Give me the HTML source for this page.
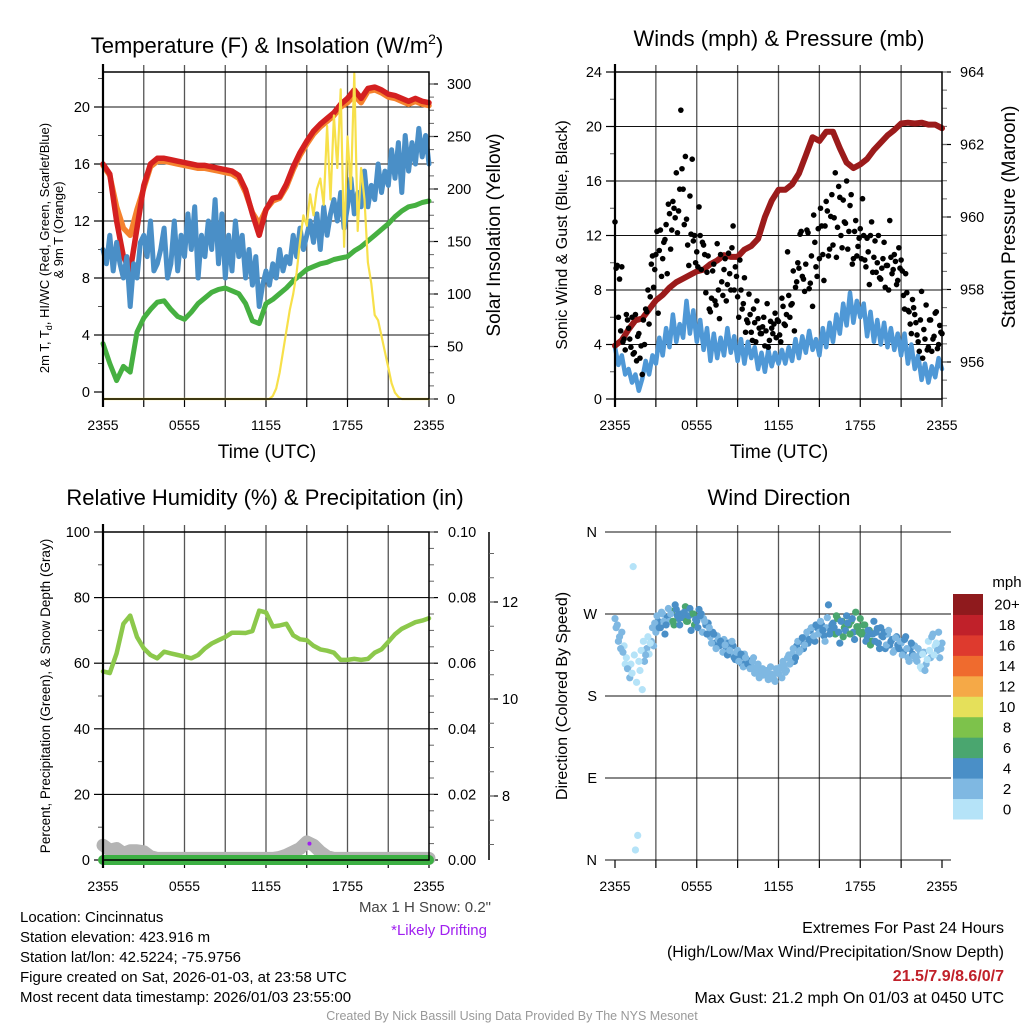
<!DOCTYPE html>
<html><head><meta charset="utf-8">
<style>
html,body{margin:0;padding:0;background:#fff;}
svg{display:block;font-family:"Liberation Sans",sans-serif;}
</style></head>
<body>
<svg id="root" width="1024" height="1024" viewBox="0 0 1024 1024" xmlns="http://www.w3.org/2000/svg">
<rect x="0" y="0" width="1024" height="1024" fill="#fff"/>
<text x="267" y="53" font-size="22" text-anchor="middle">Temperature (F) &amp; Insolation (W/m<tspan font-size="14" dy="-9">2</tspan><tspan dy="9">)</tspan></text>
<text x="779" y="46" font-size="22" text-anchor="middle">Winds (mph) &amp; Pressure (mb)</text>
<text x="265" y="505" font-size="22" text-anchor="middle">Relative Humidity (%) &amp; Precipitation (in)</text>
<text x="779" y="505" font-size="22" text-anchor="middle">Wind Direction</text>
<text x="267" y="458" font-size="19" text-anchor="middle">Time (UTC)</text>
<text x="779" y="458" font-size="19" text-anchor="middle">Time (UTC)</text>
<text transform="translate(49,248) rotate(-90)" font-size="13" text-anchor="middle">2m T, T<tspan font-size="9" dy="3">d</tspan><tspan dy="-3">, HI/WC (Red, Green, Scarlet/Blue)</tspan></text>
<text transform="translate(63,230) rotate(-90)" font-size="13" text-anchor="middle">&amp; 9m T (Orange)</text>
<text transform="translate(500,235) rotate(-90)" font-size="19" text-anchor="middle">Solar Insolation (Yellow)</text>
<text transform="translate(567,235) rotate(-90)" font-size="16" text-anchor="middle">Sonic Wind &amp; Gust (Blue, Black)</text>
<text transform="translate(1015,217) rotate(-90)" font-size="19" text-anchor="middle">Station Pressure (Maroon)</text>
<text transform="translate(50,696) rotate(-90)" font-size="13.5" text-anchor="middle">Percent, Precipitation (Green), &amp; Snow Depth (Gray)</text>
<text transform="translate(567,696) rotate(-90)" font-size="16" text-anchor="middle">Direction (Colored By Speed)</text>
<g font-size="15" fill="#000">
<text x="20" y="922">Location: Cincinnatus</text>
<text x="20" y="942">Station elevation: 423.916 m</text>
<text x="20" y="962">Station lat/lon: 42.5224; -75.9756</text>
<text x="20" y="982">Figure created on Sat, 2026-01-03, at 23:58 UTC</text>
<text x="20" y="1002">Most recent data timestamp: 2026/01/03 23:55:00</text>
</g>
<text x="491" y="912" font-size="15" fill="#444" text-anchor="end">Max 1 H Snow: 0.2"</text>
<text x="487" y="935" font-size="15" fill="#a020f0" text-anchor="end">*Likely Drifting</text>
<text x="1004" y="933" font-size="16" text-anchor="end">Extremes For Past 24 Hours</text>
<text x="1004" y="957" font-size="16" text-anchor="end">(High/Low/Max Wind/Precipitation/Snow Depth)</text>
<text x="1004" y="981" font-size="16" font-weight="bold" fill="#c0212a" text-anchor="end">21.5/7.9/8.6/0/7</text>
<text x="1004" y="1003" font-size="16" text-anchor="end">Max Gust: 21.2 mph On 01/03 at 0450 UTC</text>
<text x="512" y="1020" font-size="12.5" fill="#999" text-anchor="middle">Created By Nick Bassill Using Data Provided By The NYS Mesonet</text>
<text x="1007" y="587" font-size="15" text-anchor="middle">mph</text>
</svg>
<script>
// ---------- DATA ----------
const timeLabels = ["2355","0555","1155","1755","2355"];
const tempTicks = [0,4,8,12,16,20];
const solarTicks = [0,50,100,150,200,250,300];
const windTicks = [0,4,8,12,16,20,24];
const pressTicks = [956,958,960,962,964];
const rhTicks = [0,20,40,60,80,100];
const precipTicks = [0,0.02,0.04,0.06,0.08,0.10];
const snowTicks = [8,10,12];
const dirTicks = ["N","E","S","W","N"];
const speedBins = ["0","2","4","6","8","10","12","14","16","18","20+"];
const speedColors = ["#b5e3f8","#7fb8e2","#4a8fc7","#4aa66f","#7dc24b","#e5e05a","#f5a947","#ef6b2e","#de3a2e","#c0212a","#8f1a1d"];

const tempRed = [16,15.3,12,9.5,8.5,11.5,14.5,16,16.4,16.4,16.3,16.2,16.1,16.0,15.9,15.9,15.8,15.7,15.6,15.5,15.2,14.2,12.5,11.0,12.8,13.6,13.7,14.6,15.8,16.8,17.6,18.3,18.8,19.2,19.6,20.2,20.6,21.2,20.6,21.3,21.4,21.2,20.9,20.8,20.6,20.4,20.6,20.4,20.3];
const tempOrange = [15.9,15.2,13,11.5,11,12.8,14.3,15.8,16.2,16.2,16.1,16.0,15.9,15.8,15.7,15.7,15.6,15.5,15.4,15.3,15.0,14.0,12.6,11.8,12.8,13.4,13.6,14.4,15.6,16.6,17.4,18.1,18.6,19.0,19.4,20.0,20.3,20.8,20.3,21.1,21.2,21.0,20.7,20.6,20.4,20.2,20.4,20.2,20.1];
const tempGreen = [3.4,2.0,0.8,1.8,1.4,4.2,5.2,5.8,6.3,6.4,5.8,5.3,5.1,5.6,6.2,6.6,7.0,7.2,7.3,7.1,6.9,6.2,5.0,4.8,6.2,6.5,6.9,7.3,7.8,8.2,8.6,8.8,9.0,9.1,9.3,9.4,9.5,9.9,10.2,10.6,11.0,11.4,11.8,12.3,12.7,13.0,13.1,13.3,13.4];
const tempBlue = [10,9,11,8.5,10.5,9,8,9.5,6,9,8,10.5,11,9.5,12,8.5,9,10,11.5,8,9,12,8.5,11,9.5,12.5,10,13,8,11,9.5,12,10,13.5,9,12.5,8,11,8.5,12,9.5,11,8,10,7.5,9.5,6,7.5,8.5,7.5,9,8,10,8.5,9.5,9,11,9.5,11.5,10,11,12,10.5,12.5,10,13,11,12.5,13.5,12,14,11.5,13,15,12.5,14,13,15.5,13,14.5,13.5,16,14,15.5,14.5,17,15,17.5,14,18,15.5,17.5,16,18.5,16.5,18,16];
const solar = [0,0,0,0,0,0,0,0,0,0,0,0,0,0,0,0,0,0,0,0,0,0,0,0,0,0,0,0,0,0,0,0,0,0,0,0,0,0,0,0,0,0,0,0,0,0,0,0,0,
0,3,10,25,45,65,85,100,120,150,175,165,195,175,200,210,185,260,190,270,220,295,145,250,200,310,160,220,190,130,110,80,75,60,45,30,15,6,2,0,
0,0,0,0,0,0,0,0];
const pressure = [956.45,956.6,956.9,957.15,957.2,957.45,957.7,957.85,958.05,958.2,958.3,958.4,958.5,958.55,958.7,958.8,958.95,958.9,958.9,959.1,959.2,959.4,960.0,960.45,960.75,960.75,960.9,961.2,961.7,962.2,962.1,962.35,962.35,961.9,961.5,961.35,961.45,961.6,961.85,962.05,962.25,962.4,962.58,962.6,962.58,962.6,962.55,962.55,962.45];
const windSpeed = [3.8,2.5,3.2,1.8,2.2,1.2,1.8,0.6,1.5,2.8,1.8,3.2,2.6,4.5,3.2,5.2,3.8,6.2,4.2,5.5,4.5,7.2,4.8,6.5,4.2,5.8,3.6,5.2,2.8,4.8,3.0,4.5,3.2,5.2,3.4,4.6,2.8,4.4,2.6,4.2,3.0,3.8,2.2,3.4,2.0,3.6,2.4,3.4,2.6,3.6,2.6,3.8,2.8,4.4,3.0,4.6,3.4,5.0,3.6,4.4,3.2,5.2,3.8,5.6,4.2,6.2,4.8,7.0,5.4,7.8,5.6,7.2,6.0,7.0,4.6,6.4,4.2,5.8,4.0,5.6,3.8,5.2,3.6,4.8,3.2,4.8,2.6,4.0,2.2,3.2,1.4,2.6,1.2,2.4,1.6,3.0,2.2];
const gust = [13,9.8,8.8,9.7,4.4,6.2, 5.2,3.8,3.3,6.2,4.6,3.0, 1.8,4.0,6.4,5.5,9.9,8.2, 10.6,6.3,12.4,10.3,11.7,9.2, 13.6,12.4,14.0,16.6,13.8,21.2, 15.4,17.8,11.3,14.9,17.6,12.0, 10.8,14.1,9.5,11.3,7.8,10.5, 6.4,9.4,7.2,11.4,5.9,8.6, 9.5,7.2,10.7,8.0,12.7,9.7, 7.5,10.2,6.6,8.9,5.8,7.7, 4.9,6.6,4.2,5.9,4.8,5.3, 3.9,7.0,4.3,5.2,5.5,4.5, 5.7,4.2,6.8,5.4,10.8,6.0, 7.0,5.0,8.6,9.6,12.3,8.8, 9.9,12.2,8.5,6.8,11.5,9.0, 10.3,12.7,8.7,14.5,10.5,13.4, 11.3,16.6,12.6,14.8,11.1,13.0, 16.0,12.3,15.0,10.3,13.1,11.2, 12.5,14.7,10.2,11.8,8.4,13.0, 10.4,9.3,12.0,8.8,10.3,8.2, 9.8,13.1,9.2,10.6,8.4,11.1, 10.2,7.6,9.2,6.5,5.5,7.3, 6.2,4.7,3.5,7.9,5.1,6.9, 3.8,5.8,4.4,6.3,3.7,5.4, 4.8];
const gustMid = [9.6,6.0,5.0,4.2,3.6,5.8, 4.4,6.0,3.4,2.8,4.8,3.9, 5.8,6.6,8.0,7.5,10.5,9.5, 12.3,10.9,9.0,11.5,12.8,14.3, 11.0,14.5,13.3,12.2,15.4,16.9, 12.8,13.2,9.8,12.1,11.6,10.0, 9.7,12.0,11.5,10.6,9.3,6.6, 7.4,9.9,6.9,8.0,10.6,7.6, 10.3,8.4,9.2,11.1,8.0,9.0, 6.0,8.0,7.0,4.9,5.6,6.2, 4.3,5.6,7.2,5.2,4.8,6.0, 5.0,3.8,5.7,4.8,6.3,5.8, 4.7,7.4,5.5,6.2,7.6,6.9, 9.4,8.2,10.0,12.1,9.0,7.9, 12.4,8.1,10.5,13.5,9.7,12.5, 14.0,10.6,12.7,13.8,11.0,15.0, 13.3,10.4,15.6,12.0,14.6,12.9, 11.0,14.2,9.9,12.3,10.5,11.8, 10.3,12.0,9.7,10.8,12.0,9.3, 11.6,10.0,8.9,9.6,11.5,9.8, 8.0,10.4,9.5,10.1,8.7,9.6, 9.4,6.6,7.8,6.4,4.8,6.7, 5.6,4.2,5.8,3.0,4.4,3.6, 5.8,3.5,4.6,6.4,4.0,4.9];
const windDir = [265,258,245,250,235,222, 213,215,322,11,27,208, 187,218,232,226,240,235, 250,262,255,270,248,266, 262,273,258,275,265,270, 268,278,262,276,270,258, 262,275,270,265,258,260, 245,250,238,246,235,240, 242,232,238,226,235,220, 230,222,215,226,220,218, 212,222,208,215,205,210, 203,208,200,204,198,210, 205,212,218,206,222,215, 226,218,235,228,240,232, 245,238,252,244,240,255, 250,258,246,255,280,252, 260,248,265,238,262,255, 268,258,262,250,272,256, 265,250,258,245,252,240, 262,250,238,255,245,232, 248,236,242,230,245,232, 238,228,245,222,232,226, 235,218,225,210,228,215, 240,222,248,235,230,222, 238];
const windDirMid = [255,240,232,228,215,210, 200,205,225,195,218,230, 240,225,245,238,255,260, 268,255,272,262,258,276, 270,262,280,268,258,266, 272,262,268,252,270,264, 255,268,250,262,248,255, 238,248,232,242,240,228, 236,225,230,240,222,228, 218,226,212,222,215,210, 218,205,212,200,208,203, 206,198,212,202,196,205, 210,200,214,208,225,218, 232,222,240,230,244,236, 250,242,255,246,258,248, 262,252,240,266,248,258, 255,268,250,262,245,252, 260,248,265,242,256,250, 248,258,240,252,236,248, 240,254,232,246,250,236, 252,240,228,244,236,240, 225,242,232,218,238,224, 220,232,212,226,208,220, 230,245,225,238,250,232];
const rh = [57.5,57,63,72,74.5,68,64.5,62.5,61.5,63.5,63,62.5,62,61.5,62.5,64.5,66,67,68,69.3,69.3,69.2,69.8,76,75.5,71.2,71.5,72,68.5,67.3,67,65.3,64.2,63.8,63.2,61,61,61.3,61,61.3,63.2,64.2,66.5,68.8,70.5,71.5,72.5,73,73.7];
const snowDepthPct = [4.5,3,3.5,2,2.8,2.8,2.5,1,0.5,0.5,0.5,0.5,0.5,0.5,0.5,0.5,0.5,0.5,0.5,0.5,0.5,0.5,0.5,0.5,0.5,0.5,0.8,1.5,2.5,3.5,5.5,4.5,2.5,1,0.5,0.5,0.5,0.5,0.5,0.5,0.5,0.5,0.5,0.5,0.5,0.5,0.5,0.5,0.5];
const precip = [0,0,0,0,0,0,0,0,0,0,0,0,0,0,0,0,0,0,0,0,0,0,0,0,0,0,0,0,0,0,0,0,0,0,0,0,0,0,0,0,0,0,0,0,0,0,0,0,0];
const driftMarkerTime = [15.2];
const driftMarkerValue = [5];

// ---------- RENDER ----------
const NS = "http://www.w3.org/2000/svg";
const root = document.getElementById('root');
function mk(tag, attrs, parent){
  const e = document.createElementNS(NS, tag);
  for (const k in attrs) e.setAttribute(k, attrs[k]);
  (parent||root).appendChild(e);
  return e;
}
function xs(p,t){ return p.x0 + t/24*(p.x1-p.x0); }
function tOf(i,n){ return i*24/(n-1); }

const P1 = {x0:103,x1:429,y0:72,y1:399};
const P2 = {x0:615,x1:942,y0:72,y1:399};
const P3 = {x0:103,x1:429,y0:532,y1:860};
const P4 = {x0:615,x1:942,y0:532,y1:860};
const yTemp = v => 392 - v*14.25;
const ySolar = v => 399 - v*1.05;
const yWind = v => 399 - v*13.625;
const yPress = v => 362 - (v-956)*36.25;
const yRH = v => 860 - v*3.28;
const yPrecip = v => 860 - v*3280;
const ySnow = v => 796 - (v-8)*48.5;
const yDir = v => 860 - v*328/360;

function gridAndAxes(p, hVals, yf, name){
  const g = mk('g',{});
  
  
  for (let t=3;t<24;t+=3){
    const l = mk('line',{x1:xs(p,t),x2:xs(p,t),y1:p.y0-7,y2:p.y1,stroke:'#555','stroke-width':1.3},g);
    
    
  }
  for (const v of hVals){
    const y = yf(v);
    if (y<=p.y0+1 || y>=p.y1-1) continue;
    const l = mk('line',{x1:p.x0,x2:p.x1,y1:y,y2:y,stroke:'#111','stroke-width':1.1},g);
    
    
  }
  for (let t=0;t<=24;t+=3){
    const l = mk('line',{x1:xs(p,t),x2:xs(p,t),y1:p.y1,y2:p.y1+8,stroke:'#000','stroke-width':1.2},g);
    
    
  }
  timeLabels.forEach((s,i)=>{
    const tx = mk('text',{x:xs(p,i*6),y:p.y1+31,'font-size':14,'text-anchor':'middle'},g);
    tx.textContent = s;
    
    
  });
}
function frame(p,name){
  const r = mk('rect',{x:p.x0,y:p.y0,width:p.x1-p.x0,height:p.y1-p.y0,fill:'none',stroke:'#000','stroke-width':1.5});
  
  
  const l = mk('line',{x1:p.x0,x2:p.x0,y1:p.y0-8,y2:p.y1+8,stroke:'#000','stroke-width':2.2});
  
  
}
function leftAxis(p, vals, labels, yf, minorStep, name){
  vals.forEach((v,i)=>{
    const y=yf(v);
    const l = mk('line',{x1:p.x0-9,x2:p.x0,y1:y,y2:y,stroke:'#000','stroke-width':1.2});
    
    
    const tx = mk('text',{x:p.x0-13,y:y+5,'font-size':14.5,'text-anchor':'end'});
    tx.textContent = labels[i];
    
    
  });
  if (minorStep){
    for (let v=vals[0]+minorStep; v<vals[vals.length-1]+minorStep*1.5; v+=minorStep*2){
      const y=yf(v); if (y<p.y0-1) break;
      const l = mk('line',{x1:p.x0-5,x2:p.x0,y1:y,y2:y,stroke:'#555','stroke-width':1});
      
      
    }
  }
}
function rightAxis(xa, top, bot, vals, labels, yf, minor, name, lx){
  vals.forEach((v,i)=>{
    const y=yf(v);
    const l = mk('line',{x1:xa,x2:xa+9,y1:y,y2:y,stroke:'#000','stroke-width':1.2});
    
    
    const tx = mk('text',{x:lx,y:y+5,'font-size':14.5});
    tx.textContent = labels[i];
    
    
  });
  minor.forEach(y=>{
    if (y<top-1||y>bot+1) return;
    const l = mk('line',{x1:xa,x2:xa+5,y1:y,y2:y,stroke:'#666','stroke-width':1});
    
    
  });
}
function minorList(yf, from, to, step){ const a=[]; for(let v=from; v<=to+1e-9; v+=step) a.push(yf(v)); return a; }
function line(p, arr, yf, color, w, name){
  const pts = arr.map((v,i)=> xs(p,tOf(i,arr.length)).toFixed(1)+','+yf(v).toFixed(1)).join(' ');
  const e = mk('polyline',{points:pts,fill:'none',stroke:color,'stroke-width':w,'stroke-linejoin':'round','stroke-linecap':'round'});
  
  
  return e;
}

// Panel 1
gridAndAxes(P1,[4,8,12,16,20],yTemp,'temperature');
leftAxis(P1,tempTicks,tempTicks.map(String),yTemp,2,'temperature');
rightAxis(P1.x1,P1.y0,P1.y1,solarTicks,solarTicks.map(String),ySolar,minorList(ySolar,0,315,12.5),'insolation',447);
line(P1,tempOrange,yTemp,'#f5822e',5.5,'orange-9m-temperature-line');
line(P1,tempRed,yTemp,'#d42020',5.5,'red-2m-temperature-line');
line(P1,tempBlue,yTemp,'#4a8fc7',5,'blue-windchill-line');
line(P1,tempGreen,yTemp,'#46b041',5,'green-dewpoint-line');
line(P1,solar,ySolar,'#f7e04a',2.2,'yellow-solar-insolation-line');
frame(P1,'temperature');

// Panel 2
gridAndAxes(P2,[4,8,12,16,20],yWind,'wind');
leftAxis(P2,windTicks,windTicks.map(String),yWind,2,'wind');
rightAxis(P2.x1,P2.y0,P2.y1,pressTicks,pressTicks.map(String),yPress,minorList(yPress,955,964,0.5),'pressure',960);
line(P2,windSpeed,yWind,'#4f98d6',4.5,'blue-sonic-wind-line');
line(P2,pressure,yPress,'#9b1b1b',6,'maroon-pressure-line');
const gg = mk('g',{});


gust.forEach((v,i)=>{
  const c = mk('circle',{cx:xs(P2,tOf(i,gust.length)),cy:yWind(v),r:2.8,fill:'#000'},gg);
  
  
});
gustMid.forEach((v,i)=>{
  const c = mk('circle',{cx:xs(P2,(i+0.5)/6),cy:yWind(v),r:2.8,fill:'#000'},gg);
  
  
});
frame(P2,'wind');

// Panel 3
gridAndAxes(P3,[20,40,60,80],yRH,'humidity');
leftAxis(P3,rhTicks,rhTicks.map(String),yRH,10,'humidity');
rightAxis(P3.x1,P3.y0,P3.y1,precipTicks,precipTicks.map(v=>v.toFixed(2)),yPrecip,minorList(yPrecip,0,0.1,0.005),'precipitation',448);
const sax = mk('line',{x1:489,x2:489,y1:P3.y0,y2:P3.y1,stroke:'#000','stroke-width':1.5});


rightAxis(489,P3.y0+6,P3.y1,snowTicks,snowTicks.map(String),ySnow,minorList(ySnow,6.5,13.5,0.5),'snow-depth',502);
line(P3,snowDepthPct,yRH,'#b4b4b4',13,'gray-snow-depth-line');
line(P3,precip,yPrecip,'#3cb043',10,'green-precipitation-line');
line(P3,rh,yRH,'#8cc84b',4.5,'relative-humidity-line');
driftMarkerTime.forEach((t,i)=>{
  const c = mk('circle',{cx:xs(P3,t),cy:yRH(driftMarkerValue[i]),r:2,fill:'#a020f0'});
  
  
});
frame(P3,'humidity');

// Panel 4
gridAndAxes(P4,[90,180,270],yDir,'direction');
dirTicks.forEach((s,i)=>{
  const y = yDir(i*90);
  const l = mk('line',{x1:P4.x0-10,x2:951,y1:y,y2:y,stroke:'#111','stroke-width':1.1});
  
  
  const tx = mk('text',{x:597,y:y+5,'font-size':14.5,'text-anchor':'end'});
  tx.textContent = s;
  
  
});
function speedAt(t){ const i=Math.round(t/24*(windSpeed.length-1)); return windSpeed[i]; }
const dg = mk('g',{});


windDir.forEach((d,i)=>{
  const t = tOf(i,windDir.length);
  const bin = Math.min(10, Math.floor(speedAt(t)/2));
  const c = mk('circle',{cx:xs(P4,t),cy:yDir(d),r:3.6,fill:speedColors[bin]},dg);
  
  
});
windDirMid.forEach((d,i)=>{
  const t = (i+0.5)/6;
  const bin = Math.min(10, Math.floor(speedAt(t)/2));
  const c = mk('circle',{cx:xs(P4,t),cy:yDir(d),r:3.6,fill:speedColors[bin]},dg);
  
  
});

// colorbar
const cb = mk('g',{});


const cbTop=594, cbH=225/11;
speedBins.forEach((s,i)=>{
  const y = cbTop + (10-i)*cbH;
  const r = mk('rect',{x:953,y:y,width:30,height:cbH+0.5,fill:speedColors[i]},cb);
  
  
  const tx = mk('text',{x:1007,y:y+cbH/2+5.5,'font-size':15,'text-anchor':'middle'},cb);
  tx.textContent = s;
  
  
});
</script>
</body></html>
